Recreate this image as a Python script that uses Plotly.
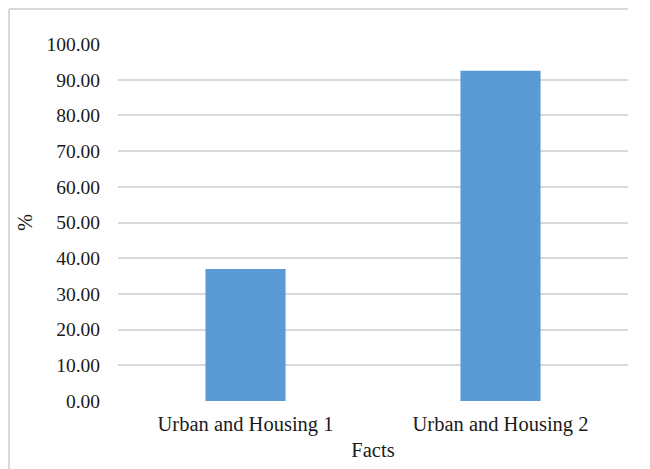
import plotly.graph_objects as go

# ------------DATA------------------------------------------
categories = ['Urban and Housing 1', 'Urban and Housing 2']
values = [37.0, 92.5]
y_ticks = [0, 10, 20, 30, 40, 50, 60, 70, 80, 90, 100]

# ------------FORMATING OPTIONS------------------------------------------
# page body keeps its default 8px margin, so the figure is 8px smaller
colors = {'bar': '#5b9bd5', 'grid': '#d9d9d9', 'text': '#1a1a1a'}
font_family = 'Liberation Serif, Times New Roman, serif'

fig = go.Figure(go.Bar(x=categories, y=values, marker_color=colors['bar'],
                       marker_line_width=0))

fig.update_layout(width=642, height=461,
                  margin=dict(l=110, r=22, t=36, b=68),
                  plot_bgcolor='white', paper_bgcolor='white',
                  font=dict(family=font_family, size=19, color=colors['text']),
                  bargap=0.686, showlegend=False)

fig.update_xaxes(title=dict(text='Facts', standoff=8, font=dict(size=20.5)),
                 tickfont=dict(size=20.5), automargin=False, showgrid=False,
                 zeroline=False, showline=False, ticks='', ticklabelstandoff=8)
fig.update_yaxes(title=dict(text='%', standoff=8, font=dict(size=20.5)),
                 range=[0, 100], tickvals=y_ticks, tickformat='.2f',
                 tickfont=dict(size=19.5), automargin=False, showgrid=True,
                 gridcolor=colors['grid'], gridwidth=2, zeroline=False,
                 showline=False, ticks='', ticklabelstandoff=17)

# chart border: left and top edges of the chart frame
fig.add_shape(type='line', xref='paper', yref='paper',
              x0=(1 - 110) / 510, x1=(1 - 110) / 510,
              y0=(393 - 470) / 357, y1=(393 - 1) / 357,
              line=dict(color=colors['grid'], width=2), layer='below')
fig.add_shape(type='line', xref='paper', yref='paper',
              x0=(1 - 110) / 510, x1=(620 - 110) / 510,
              y0=(393 - 1) / 357, y1=(393 - 1) / 357,
              line=dict(color=colors['grid'], width=2), layer='below')

fig.write_html('out.html')
